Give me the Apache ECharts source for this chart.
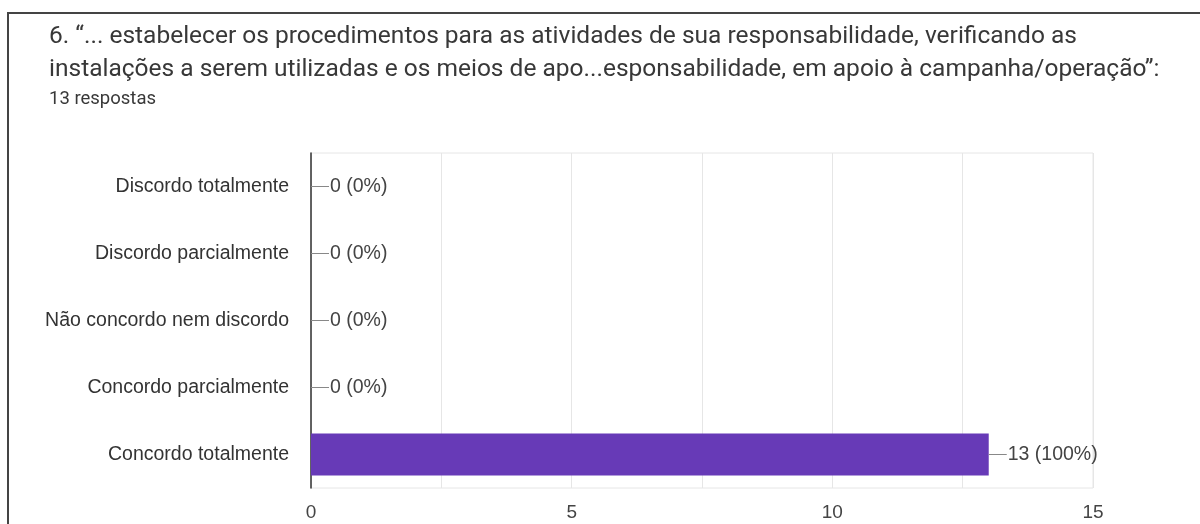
<!DOCTYPE html>
<html>
<head>
<meta charset="utf-8">
<script src="https://cdn.jsdelivr.net/npm/echarts@6/dist/echarts.min.js"></script>
<style>
    html, body { margin: 0; padding: 0; background: #fff; }
    #chart { width: 1200px; height: 524px; }
</style>
</head>
<body>
<div id="chart"></div>
<script>
var titleLines = [
    '6. “... estabelecer os procedimentos para as atividades de sua responsabilidade, verificando as',
    'instalações a serem utilizadas e os meios de apo...esponsabilidade, em apoio à campanha/operação”:'
];
var subtitle = '13 respostas';
var categories = ['Discordo totalmente', 'Discordo parcialmente', 'Não concordo nem discordo', 'Concordo parcialmente', 'Concordo totalmente'];
var counts = [0, 0, 0, 0, 13];
var xTicks = [0, 5, 10, 15];

var total = 0;
for (var i = 0; i < counts.length; i++) total += counts[i];

var myChart = echarts.init(document.getElementById('chart'));

var option = {
    backgroundColor: '#fff',
    animation: false,
    title: [
        {
            text: titleLines.join('\n'),
            left: 49,
            top: 20,
            padding: 0,
            textStyle: {
                fontFamily: 'Roboto',
                fontSize: 24.5,
                lineHeight: 33,
                fontWeight: 'normal',
                color: '#383838'
            }
        },
        {
            text: subtitle,
            left: 49,
            top: 88,
            padding: 0,
            textStyle: {
                fontFamily: 'Roboto',
                fontSize: 18.5,
                lineHeight: 22,
                fontWeight: 'normal',
                color: '#383838'
            }
        }
    ],
    graphic: [
        {
            type: 'polyline',
            shape: { points: [[8, 524], [8, 13], [1200, 13]] },
            style: { stroke: '#444', lineWidth: 2, fill: null }
        }
    ],
    grid: {
        left: 311,
        right: 107,
        top: 153,
        bottom: 36,
        show: true,
        borderColor: '#e6e6e6',
        borderWidth: 1
    },
    xAxis: {
        type: 'value',
        min: 0,
        max: 15,
        interval: 2.5,
        axisLine: { show: false },
        axisTick: { show: false },
        splitLine: { lineStyle: { color: '#e6e6e6', width: 1 } },
        axisLabel: {
            margin: 15,
            fontFamily: 'Arial, Liberation Sans',
            fontSize: 19,
            color: '#444',
            formatter: function (v) {
                return xTicks.indexOf(v) >= 0 ? String(v) : '';
            }
        }
    },
    yAxis: {
        type: 'category',
        inverse: true,
        data: categories,
        axisLine: { show: true, lineStyle: { color: '#333', width: 1.5 } },
        axisTick: { show: false },
        axisLabel: {
            margin: 22,
            fontFamily: 'Arial, Liberation Sans',
            fontSize: 19.5,
            color: '#333'
        }
    },
    series: [
        {
            type: 'bar',
            data: counts,
            barWidth: 42,
            itemStyle: { color: '#673ab7' },
            label: {
                show: true,
                position: 'right',
                distance: 0,
                formatter: function (p) {
                    var pct = total ? Math.round(p.value / total * 100) : 0;
                    return '{l| }{t|' + p.value + ' (' + pct + '%)}';
                },
                rich: {
                    l: { width: 18, height: 1, backgroundColor: '#888' },
                    t: {
                        fontFamily: 'Arial, Liberation Sans',
                        fontSize: 19.5,
                        color: '#444',
                        padding: [0, 0, 0, 1]
                    }
                }
            }
        }
    ]
};

myChart.setOption(option);
window.addEventListener('resize', function () {
    myChart.resize();
});
</script>
</body>
</html>
